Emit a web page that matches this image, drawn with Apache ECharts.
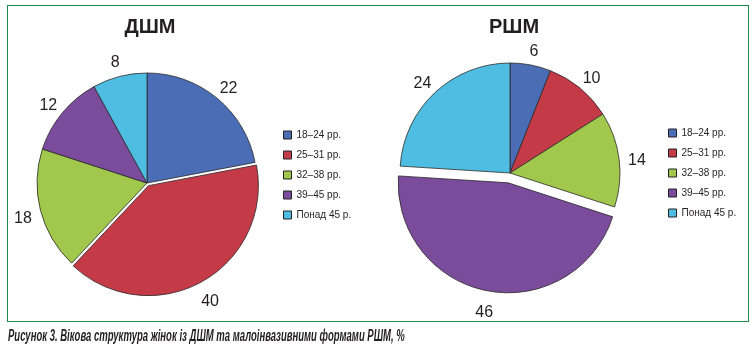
<!DOCTYPE html>
<html>
<head>
<meta charset="utf-8">
<script src="https://cdn.jsdelivr.net/npm/echarts@6/dist/echarts.min.js"></script>
<style>
  html, body { margin: 0; padding: 0; background: #fff; }
  #frame { position: absolute; left: 7px; top: 5px; width: 740px; height: 315px; border: 1.5px solid #1b8a4c; }
  #chart { position: absolute; left: 0; top: 0; width: 756px; height: 351px; }
</style>
</head>
<body>
<div id="frame"></div>
<div id="chart"></div>
<script>
// категорії та значення (%)
var categories = ["18–24 рр.", "25–31 рр.", "32–38 рр.", "39–45 рр.", "Понад 45 р."];
var dshmValues = [22, 40, 18, 12, 8];
var rshmValues = [6, 10, 14, 46, 24];
var colors = ["#4a6db5", "#c43a47", "#a1c74c", "#7b4c9c", "#4fbde1"];
var caption = "Рисунок 3. Вікова структура жінок із ДШМ та малоінвазивними формами РШМ, %";

function makeData(values, explodeIndex) {
  return values.map(function (v, i) {
    return { name: categories[i], value: v, selected: i === explodeIndex };
  });
}

// сам пиріг, без підписів
function pieSeries(name, values, center, explodeIndex, offset) {
  return {
    name: name,
    type: "pie",
    center: center,
    radius: 110,
    startAngle: 90,
    clockwise: true,
    selectedMode: "single",
    selectedOffset: offset,
    silent: true,
    itemStyle: { borderColor: "#2a2a2a", borderWidth: 0.8 },
    label: { show: false },
    labelLine: { show: false },
    data: makeData(values, explodeIndex)
  };
}

// прозоре кільце навколо пирога - тільки щоб поставити числа по центру за межами сектора
// (центр трохи нижче, щоб цифри сиділи як в оригіналі)
function labelRing(name, values, center, explodeIndex, offset) {
  return {
    name: name + " labels",
    type: "pie",
    center: [center[0], center[1] + 4],
    radius: [110, 140],
    startAngle: 90,
    clockwise: true,
    selectedMode: "single",
    selectedOffset: offset,
    silent: true,
    itemStyle: { color: "rgba(0,0,0,0)", borderWidth: 0 },
    label: {
      show: true,
      position: "inside",
      formatter: "{c}",
      color: "#231f20",
      fontSize: 16,
      fontFamily: "Liberation Sans, Arial, sans-serif"
    },
    labelLine: { show: false },
    data: makeData(values, explodeIndex)
  };
}

function legendAt(left, top) {
  return {
    orient: "vertical",
    left: left,
    top: top,
    padding: 0,
    selectedMode: false,
    icon: "rect",
    itemWidth: 8,
    itemHeight: 8,
    itemGap: 8,
    itemStyle: { borderColor: "#222", borderWidth: 1 },
    textStyle: {
      fontSize: 10,
      lineHeight: 12,
      color: "#231f20",
      fontFamily: "Liberation Sans, Arial, sans-serif"
    },
    data: categories
  };
}

var chart = echarts.init(document.getElementById("chart"));
chart.setOption({
  animation: false,
  color: colors,
  title: [
    {
      text: "ДШМ", left: 145, top: 12, textAlign: "center",
      textStyle: { fontSize: 20, fontWeight: "bold", color: "#231f20", fontFamily: "Liberation Sans, Arial, sans-serif" }
    },
    {
      text: "РШМ", left: 509, top: 12, textAlign: "center",
      textStyle: { fontSize: 20, fontWeight: "bold", color: "#231f20", fontFamily: "Liberation Sans, Arial, sans-serif" }
    }
  ],
  graphic: [
    {
      type: "text",
      x: 8,
      y: 329,
      scaleX: 0.595,
      silent: true,
      style: {
        text: caption,
        fill: "#231f20",
        font: "italic bold 16px 'Liberation Sans', Arial, sans-serif"
      }
    }
  ],
  legend: [legendAt(283, 129), legendAt(668, 127)],
  series: [
    pieSeries("ДШМ", dshmValues, [147, 183], 1, 3),
    pieSeries("РШМ", rshmValues, [510, 173], 3, 10),
    labelRing("ДШМ", dshmValues, [147, 183], 1, 3),
    labelRing("РШМ", rshmValues, [510, 173], 3, 10)
  ]
});
</script>
</body>
</html>
